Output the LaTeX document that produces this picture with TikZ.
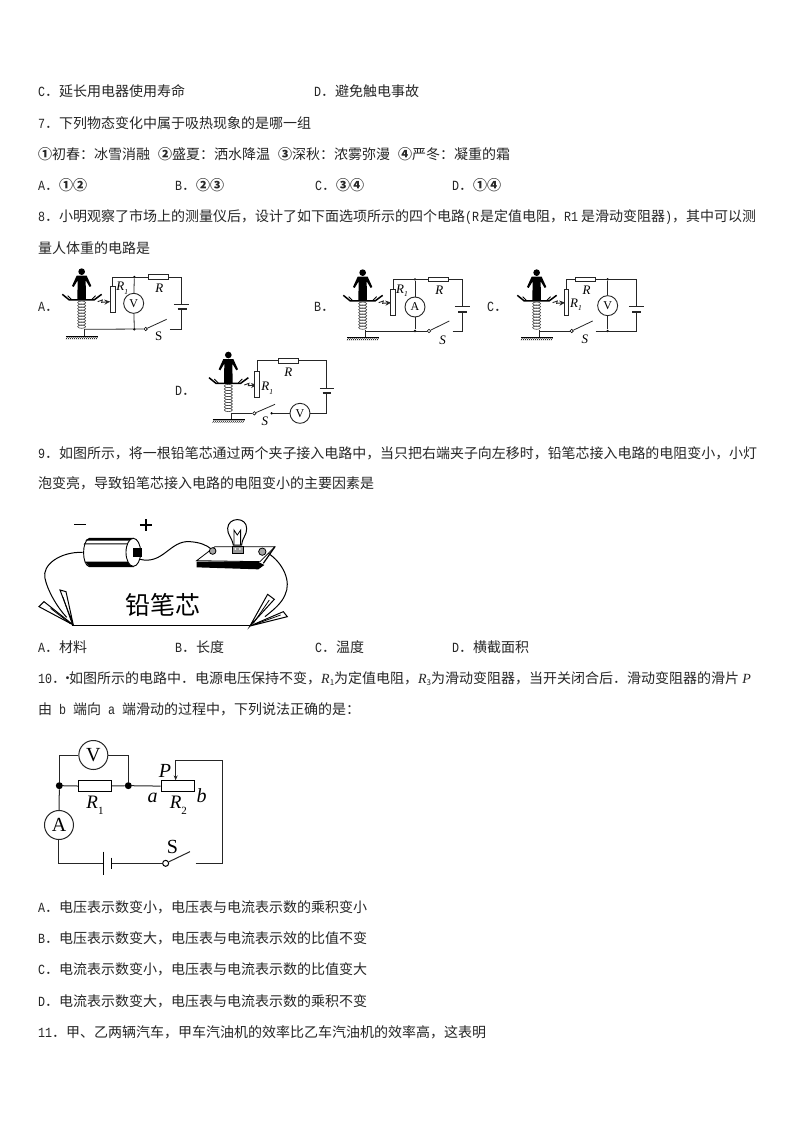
\documentclass[tikz,border=0pt]{standalone}
\usepackage{fontspec}
\setmainfont{Noto Sans CJK SC}
\newfontfamily\lam[FakeStretch=0.833]{Liberation Mono}
\newfontfamily\ser{Liberation Serif}
\usetikzlibrary{arrows.meta}
\newcounter{tn}
\newcommand\Tx[3]{\stepcounter{tn}\node[txt] (t\arabic{tn}) at (#1,#2) {#3};}
\newcommand\La[1]{{\lam\fontsize{14}{14}\selectfont #1}}
\newcommand\It[1]{{\ser\itshape #1}}
\newcommand\Cn[1]{\makebox[14pt]{\bfseries #1}}
\newcommand\Lb[3]{\stepcounter{tn}\node[lbl] (t\arabic{tn}) at (#1,#2) {\ser\itshape #3};}
\newcommand\Rs[2]{\ser\itshape #1\raisebox{-.25em}{\fontsize{7.5}{8}\selectfont #2}}
% person + spring: centre x, head y
\newcommand\Person[2]{%
 \begin{scope}[shift={(#1,#2)}]
  \fill (0,0) circle (10);
  \fill (-15,12) -- (15,12) -- (29,43) -- (24,46) -- (12,26) -- (13,85) -- (-13,85) -- (-12,26) -- (-24,46) -- (-29,43) -- cycle;
  \draw[line width=1.5pt] (-58,68) -- (-37,85) -- (37,85) -- (60,68);
  \draw[line width=.9pt] (-42,72) -- (-30,84) (42,72) -- (30,84);
  \foreach \k in {0,...,8} \draw[line width=.6pt,black!75] (0,{93+\k*9}) ellipse (12 and 5);
  \draw[wire] (8,173) -- (8,195);
  \draw[line width=1pt] (-47,195) -- (50,195);
  \foreach \k in {0,...,15} \draw[line width=.5pt] ({-42+\k*6},195) -- ({-47+\k*6},203);
  \draw[wire,line width=.9pt,-{Stealth[length=6pt,width=5pt]}] (48,90) -- (62,85) -- (60,92) -- (86,90);
 \end{scope}}
\tikzset{
 txt/.style={anchor=base west,inner sep=0pt,font=\fontsize{14}{14}\selectfont,text=black!85},
 lbl/.style={anchor=center,inner sep=0pt,font=\fontsize{13}{13}\selectfont},
 wire/.style={line width=.8pt,draw=black!85},
 meter/.style={circle,draw=black!85,line width=.9pt,fill=white,inner sep=0pt,minimum size=20pt,font=\ser\fontsize{12}{12}\selectfont},
 meterbig/.style={meter,minimum size=29pt,line width=1pt,font=\ser\fontsize{20}{20}\selectfont},
 resh/.style={rectangle,draw=black!85,line width=.8pt,fill=white,inner sep=0pt,minimum width=20pt,minimum height=4.5pt},
 resv/.style={rectangle,draw=black!85,line width=.8pt,fill=white,inner sep=0pt,minimum width=4.5pt,minimum height=26pt},
 reshb/.style={rectangle,draw=black,line width=1pt,fill=white,inner sep=0pt,minimum width=33pt,minimum height=11pt},
 jn/.style={circle,fill=black,inner sep=0pt,minimum size=2.6pt},
 jnb/.style={circle,fill=black,inner sep=0pt,minimum size=7pt},
 sw/.style={circle,draw=black,fill=white,line width=.6pt,inner sep=0pt,minimum size=3.4pt},
 plate/.style={line width=.9pt,draw=black!85},
 plateb/.style={line width=1.9pt,draw=black!85},
}
\begin{document}
\begin{tikzpicture}[x=1pt,y=-1pt]
\useasboundingbox[fill=white] (0,0) rectangle (794,1123);
\Tx{38}{97}{\La{C}．延长用电器使用寿命}
\Tx{314}{97}{\La{D}．避免触电事故}
\Tx{38}{129}{\La{7}．下列物态变化中属于吸热现象的是哪一组}
\Tx{38}{160}{\Cn{①}初春：冰雪消融\hspace{8pt}\Cn{②}盛夏：洒水降温\hspace{8pt}\Cn{③}深秋：浓雾弥漫\hspace{8pt}\Cn{④}严冬：凝重的霜}
\Tx{38}{191}{\La{A}．\Cn{①}\Cn{②}}
\Tx{175}{191}{\La{B}．\Cn{②}\Cn{③}}
\Tx{315}{191}{\La{C}．\Cn{③}\Cn{④}}
\Tx{452}{191}{\La{D}．\Cn{①}\Cn{④}}
\Tx{38}{222}{\La{8}．小明观察了市场上的测量仪后，设计了如下面选项所示的四个电路\La{(R}\hspace{1pt}是定值电阻，\La{R1}\hspace{3pt}是滑动变阻器\La{)}，其中可以测}
\Tx{38}{253}{量人体重的电路是}
\Tx{38}{311}{\La{A}．}
\Tx{314}{311}{\La{B}．}
\Tx{487}{311}{\La{C}．}
\Tx{175}{395}{\La{D}．}
\Tx{38}{458}{\fontsize{13.96}{14}\selectfont\La{9}．如图所示，将一根铅笔芯通过两个夹子接入电路中，当只把右端夹子向左移时，铅笔芯接入电路的电阻变小，小灯}
\Tx{38}{488}{泡变亮，导致铅笔芯接入电路的电阻变小的主要因素是}
\Tx{38}{652}{\La{A}．材料}
\Tx{175}{652}{\La{B}．长度}
\Tx{315}{652}{\La{C}．温度}
\Tx{452}{652}{\La{D}．横截面积}
\Tx{38}{683}{\La{10}．\makebox[3pt]{·}如图所示的电路中．电源电压保持不变，\It{R}\raisebox{-.2em}{\fontsize{8}{8}\selectfont 1}为定值电阻，\It{R}\raisebox{-.2em}{\fontsize{8}{8}\selectfont 3}为滑动变阻器，当开关闭合后．滑动变阻器的滑片 \It{P}}
\Tx{38}{714}{由\La{ b }端向\La{ a }端滑动的过程中，下列说法正确的是：}
\Tx{38}{912}{\La{A}．电压表示数变小，电压表与电流表示数的乘积变小}
\Tx{38}{943}{\La{B}．电压表示数变大，电压表与电流表示效的比值不变}
\Tx{38}{974}{\La{C}．电流表示数变小，电压表与电流表示数的比值变大}
\Tx{38}{1006}{\La{D}．电流表示数变大，电压表与电流表示数的乘积不变}
\Tx{38}{1037}{\La{11}．甲、乙两辆汽车，甲车汽油机的效率比乙车汽油机的效率高，这表明}

% ---- circuit A
\begin{scope}[shift={(30,260)},x=.3333pt,y=-.3333pt]
 \Person{155}{35}
 \node[resv] (a1) at (248,119) {};
 \node[resh] (a2) at (385,51) {};
 \node[meter] (a3) at (311,130) {V};
 \node[jn] (a4) at (313,51) {};
 \node[jn] (a5) at (313,208) {};
 \node[sw] (a6) at (347,207) {};
 \coordinate (a7) at (420,208);
 \coordinate (a8) at (410,178);
 \coordinate (a9) at (455,133);
 \coordinate (a10) at (455,148);
 \draw[wire] (a1.north) |- (a2.west) (a2.east) -| (a9);
 \draw[wire] (a4) -- (a3) -- (a5);
 \draw[wire] (163,208) -- (a6.west);
 \draw[wire] (a6) -- (a8);
 \draw[wire] (a7) -| (a10);
 \draw[plate] (432,133) -- (478,133);
 \draw[plateb] (443,148) -- (470,148);
 \Lb{277}{85}{\Rs{R}{1}} \Lb{388}{84}{R} \Lb{386}{230}{\upshape S}
\end{scope}
% ---- circuit B
\begin{scope}[shift={(310,260)},x=.3333pt,y=-.3333pt]
 \Person{158}{38}
 \node[resv] (b1) at (249,127) {};
 \node[resh] (b2) at (386,58) {};
 \node[meter] (b3) at (315,141) {A};
 \node[jn] (b4) at (315,58) {};
 \node[jn] (b5) at (315,213) {};
 \node[sw] (b6) at (357,213) {};
 \coordinate (b7) at (428,213);
 \coordinate (b8) at (418,183);
 \coordinate (b9) at (457,140);
 \coordinate (b10) at (457,155);
 \draw[wire] (b1.north) |- (b2.west) (b2.east) -| (b9);
 \draw[wire] (b4) -- (b3) -- (b5);
 \draw[wire] (166,213) -- (b6.west);
 \draw[wire] (b6) -- (b8);
 \draw[wire] (b7) -| (b10);
 \draw[plate] (435,140) -- (480,140);
 \draw[plateb] (445,155) -- (470,155);
 \Lb{276}{92}{\Rs{R}{1}} \Lb{388}{90}{R} \Lb{398}{240}{S}
\end{scope}
% ---- circuit C
\begin{scope}[shift={(310,260)},x=.3333pt,y=-.3333pt]
 \Person{680}{38}
 \node[resv] (c1) at (770,127) {};
 \node[resh] (c2) at (825,58) {};
 \node[meter] (c3) at (893,137) {V};
 \node[jn] (c4) at (893,58) {};
 \node[jn] (c5) at (893,213) {};
 \node[sw] (c6) at (785,213) {};
 \coordinate (c7) at (857,213);
 \coordinate (c8) at (848,183);
 \coordinate (c9) at (978,140);
 \coordinate (c10) at (978,155);
 \draw[wire] (c1.north) |- (c2.west) (c2.east) -| (c9);
 \draw[wire] (c4) -- (c3) -- (c5);
 \draw[wire] (688,213) -- (c6.west);
 \draw[wire] (c6) -- (c8);
 \draw[wire] (c7) -| (c10);
 \draw[plate] (957,140) -- (1002,140);
 \draw[plateb] (967,155) -- (992,155);
 \Lb{798}{135}{\Rs{R}{1}} \Lb{830}{90}{R} \Lb{825}{238}{S}
\end{scope}
% ---- circuit D
\begin{scope}[shift={(170,345)},x=.3333pt,y=-.3333pt]
 \Person{175}{30}
 \node[resv] (d1) at (261,117) {};
 \node[resh] (d2) at (355,47) {};
 \node[meter] (d3) at (390,205) {V};
 \node[sw] (d6) at (253,205) {};
 \node[jn] (d5) at (305,205) {};
 \coordinate (d8) at (315,178);
 \coordinate (d9) at (470,130);
 \coordinate (d10) at (470,145);
 \draw[wire] (d1.north) |- (d2.west) (d2.east) -| (d9);
 \draw[wire] (d3.east) -| (d10);
 \draw[wire] (d5) -- (d3.west);
 \draw[wire] (183,205) -- (d6.west);
 \draw[wire] (d6) -- (d8);
 \draw[plate] (450,130) -- (492,130);
 \draw[plateb] (458,145) -- (483,145);
 \Lb{292}{130}{\Rs{R}{1}} \Lb{355}{82}{R} \Lb{285}{228}{S}
\end{scope}
% ---- pencil figure
\begin{scope}[shift={(30,510)},x=.3333pt,y=-.3333pt]
 \draw[line width=1.4pt] (133,44) -- (168,44);
 \draw[line width=1.4pt] (330,45) -- (366,45) (348,27) -- (348,63);
 % battery
 \draw[line width=.9pt,fill=white] (178,85) -- (310,85) -- (310,170) -- (178,170) .. controls (155,165) and (155,92) .. (178,85) -- cycle;
 \fill (172,87) -- (305,87) -- (305,92) -- (166,92) -- cycle;
 \fill (163,100) -- (298,100) -- (298,103) -- (161,103) -- cycle;
 \fill (165,155) -- (300,155) -- (303,170) -- (178,170) -- cycle;
 \draw[line width=.9pt,fill=white] (310,127) ellipse (22 and 42);
 \fill (310,113) rectangle (335,140);
 \draw[line width=1pt] (330,148) .. controls (400,165) and (420,90) .. (480,95) .. controls (510,97) and (530,105) .. (545,118);
 \draw[line width=1pt] (158,127) .. controls (90,125) and (35,165) .. (45,205) .. controls (52,240) and (80,290) .. (110,322);
 \draw[line width=1pt] (715,130) .. controls (760,160) and (785,215) .. (765,255) .. controls (755,280) and (730,300) .. (705,320);
 % board
 \draw[line width=.8pt,fill=white] (500,152) -- (555,110) -- (735,110) -- (690,155) -- cycle;
 \fill (500,155) -- (683,155) -- (703,165) -- (685,178) -- (500,172) -- cycle;
 \draw[line width=1.2pt] (735,110) -- (700,160);
 \draw[line width=.8pt,fill=black!35] (548,123) circle (10);
 \draw[line width=.8pt,fill=black!35] (697,125) circle (11);
 % bulb
 \draw[line width=.8pt,fill=black!40] (606,108) rectangle (640,130);
 \draw[line width=1pt,fill=white] (610,105) .. controls (605,80) and (592,75) .. (593,55) .. controls (595,20) and (650,20) .. (650,55) .. controls (651,75) and (638,80) .. (635,105) -- cycle;
 \draw[line width=.8pt] (612,105) -- (612,60) -- (622,75) -- (632,60) -- (632,105);
 \fill[white] (616,117) circle (3) (630,117) circle (3);
 % pencil lead
 \draw[line width=1.5pt] (125,347) -- (662,347);
 % clips
 \draw[line width=1pt,fill=white] (27,290) -- (42,275) -- (130,345) -- cycle;
 \draw[line width=1pt,fill=white] (90,240) -- (108,245) -- (130,345) -- cycle;
 \draw[line width=1pt,fill=white] (713,253) -- (733,268) -- (660,348) -- cycle;
 \draw[line width=1pt,fill=white] (772,320) -- (760,305) -- (660,348) -- cycle;
 \draw[line width=.8pt] (62,295) -- (120,340) (99,262) -- (126,340) (718,270) -- (670,340) (752,315) -- (672,344);
 \node[inner sep=0pt,font=\fontsize{25}{25}\selectfont] (lead) at (400,285) {铅笔芯};
\end{scope}
% ---- circuit 10
\begin{scope}[shift={(30,735)},x=.3333pt,y=-.3333pt]
 \node[jnb] (e1) at (88,152) {};
 \node[jnb] (e2) at (295,152) {};
 \node[reshb] (e3) at (195,154) {};
 \node[reshb] (e4) at (443,154) {};
 \node[meterbig] (e5) at (190,60) {V};
 \node[meterbig] (e6) at (87,270) {A};
 \node[sw,minimum size=6pt,line width=1pt] (e7) at (407,385) {};
 \coordinate (e8) at (480,350);
 \coordinate (e9) at (497,385);
 \coordinate (e10) at (222,385);
 \coordinate (e11) at (245,385);
 \coordinate (e12) at (577,75);
 \coordinate (e13) at (437,75);
 \draw[wire,line width=1pt] (e1) |- (e5.west);
 \draw[wire,line width=1pt] (e5.east) -| (e2);
 \draw[wire,line width=1pt] (e1) -- (e3) -- (e2) -- (e4);
 \draw[wire,line width=1pt] (e1) -- (e6);
 \draw[wire,line width=1pt] (e6) |- (e10);
 \draw[wire,line width=1pt] (e11) -- (e7);
 \draw[wire,line width=1pt] (e7) -- (e8);
 \draw[wire,line width=1pt] (e9) -- (577,385) -- (e12) -- (e13);
 \draw[wire,line width=1pt,-{Stealth[length=5pt,width=4pt]}] (e13) -- (e4.north -| e13);
 \draw[line width=1pt] (222,350) -- (222,420);
 \draw[line width=1pt] (245,368) -- (245,402);
 \Lb{195}{210}{\fontsize{19}{19}\selectfont R\raisebox{-.3em}{\upshape\fontsize{11}{11}\selectfont 1}}
 \Lb{445}{210}{\fontsize{19}{19}\selectfont R\raisebox{-.3em}{\upshape\fontsize{11}{11}\selectfont 2}}
 \Lb{368}{188}{\fontsize{20}{20}\selectfont a}
 \Lb{515}{183}{\fontsize{20}{20}\selectfont b}
 \Lb{405}{107}{\fontsize{20}{20}\selectfont P}
 \Lb{427}{335}{\upshape\fontsize{20}{20}\selectfont S}
\end{scope}
\end{tikzpicture}
\end{document}
